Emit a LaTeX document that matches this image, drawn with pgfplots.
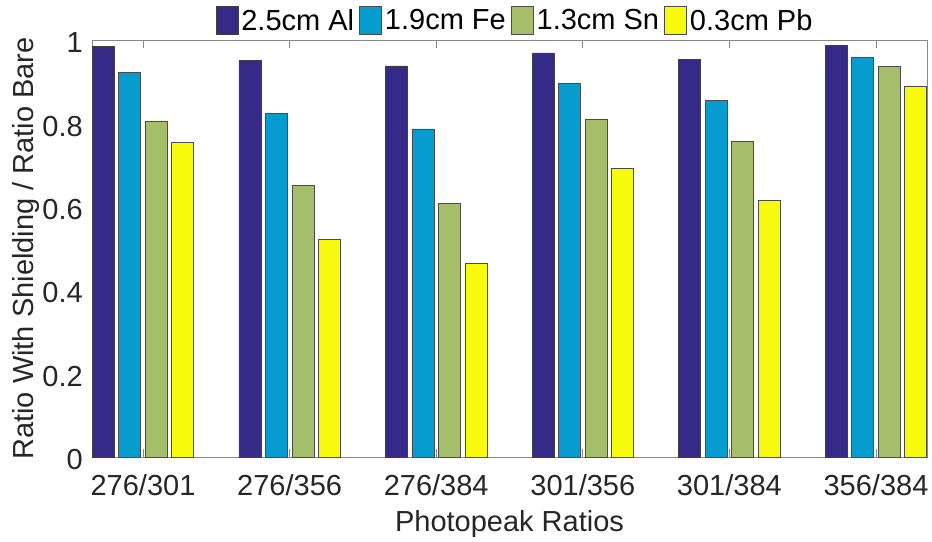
\documentclass[border=0pt]{standalone}
\usepackage{pgfplots}
\pgfplotsset{compat=1.18}
\usepackage{fontspec}
\setmainfont{Liberation Sans}
\definecolor{c1}{RGB}{53,42,135}
\definecolor{c2}{RGB}{7,156,207}
\definecolor{c3}{RGB}{165,190,106}
\definecolor{c4}{RGB}{248,250,13}
\definecolor{axgray}{RGB}{135,135,135}
\definecolor{txt}{RGB}{38,38,38}
\newcommand{\bigf}{\fontsize{29}{34}\selectfont}
\pgfplotsset{mylegend/.style={legend image code/.code={\draw[##1, line width=0.8pt] (0pt,-14.3pt) rectangle (22pt,14.3pt);}}}
\begin{document}
\begin{tikzpicture}
\begin{axis}[
  scale only axis, width=835pt, height=417pt,
  xmin=0.652, xmax=6.348, ymin=0, ymax=1,
  ybar=4.5pt, bar width=22pt,
  xtick={1,2,3,4,5,6},
  xticklabels={276/301,276/356,276/384,301/356,301/384,356/384},
  ytick={0,0.2,0.4,0.6,0.8,1},
  tick align=inside, major tick length=8pt,
  axis line style={axgray, line width=0.8pt},
  every tick/.style={axgray, line width=0.8pt},
  /pgf/number format/assume math mode=true,
  ticklabel style={font=\bigf, text=txt},
  xticklabel style={anchor=base, inner sep=0pt, yshift=-38pt},
  yticklabel style={anchor=east, inner sep=0pt, xshift=-9pt, yshift=-2.7pt},
  xlabel={Photopeak Ratios},
  ylabel={Ratio With Shielding / Ratio Bare},
  xlabel style={font=\bigf, text=txt, at={(axis description cs:0.5,-0.1775)}, anchor=base},
  ylabel style={font=\bigf, text=txt, at={(axis description cs:-0.0701,0.5)}, anchor=base, rotate=0},
  legend style={at={(axis description cs:0.5054,1)}, anchor=south, yshift=4.7pt,
    draw=none, fill=none, inner sep=0pt, font=\bigf, legend columns=4,
    nodes={inner sep=0pt},
    /tikz/every odd column/.append style={column sep=3pt},
    /tikz/every even column/.append style={column sep=5pt}},
]
\addplot[fill=c1, draw=black!75, line width=0.6pt, mylegend] coordinates {(1,0.984) (2,0.951) (3,0.938) (4,0.969) (5,0.954) (6,0.987)};
\addplot[fill=c2, draw=black!70, line width=0.6pt, mylegend] coordinates {(1,0.922) (2,0.824) (3,0.787) (4,0.895) (5,0.855) (6,0.958)};
\addplot[fill=c3, draw=black!70, line width=0.6pt, mylegend] coordinates {(1,0.806) (2,0.652) (3,0.608) (4,0.809) (5,0.756) (6,0.937)};
\addplot[fill=c4, draw=black!70, line width=0.6pt, mylegend] coordinates {(1,0.755) (2,0.522) (3,0.464) (4,0.693) (5,0.616) (6,0.890)};
\legend{2.5cm Al, 1.9cm Fe, 1.3cm Sn, 0.3cm Pb}
\end{axis}
\pgfresetboundingbox
\useasboundingbox ([shift={(-92pt,-84pt)}]current axis.south west) rectangle ([shift={(840pt,457pt)}]current axis.south west);
\end{tikzpicture}
\end{document}
